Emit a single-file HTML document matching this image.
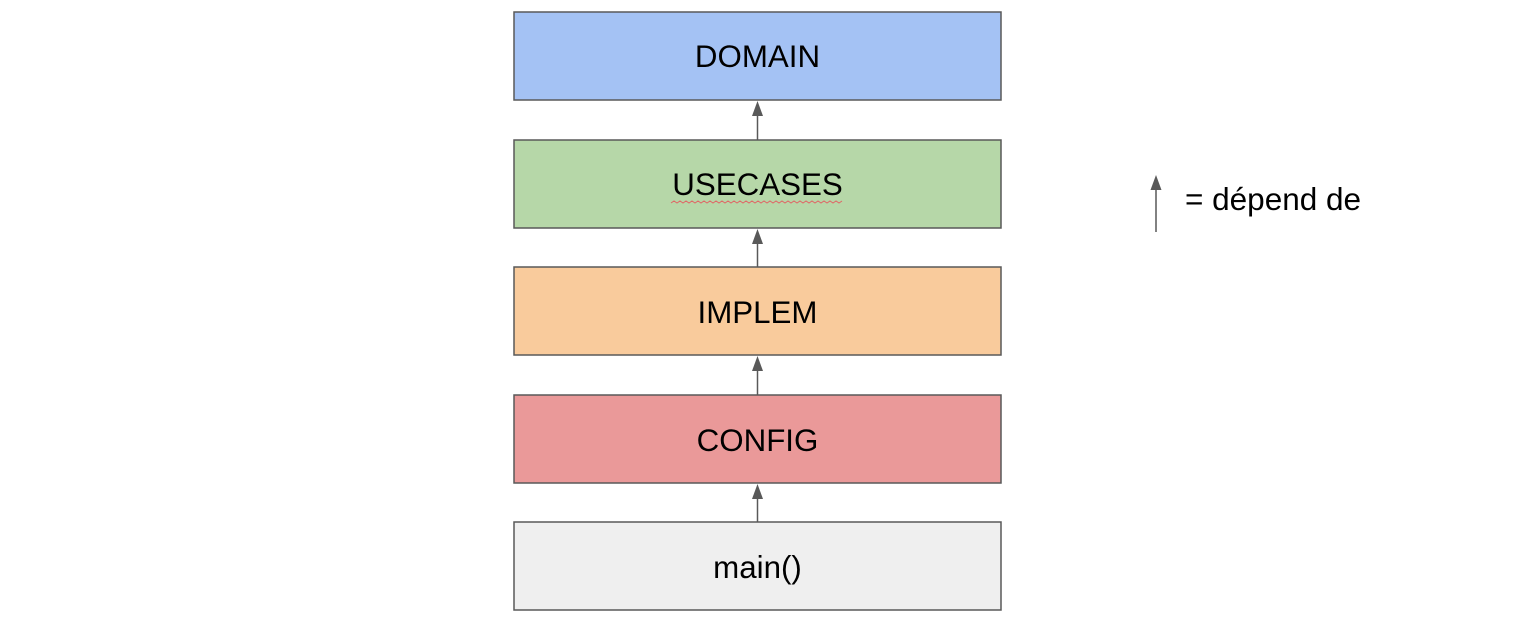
<!DOCTYPE html>
<html><head><meta charset="utf-8"><style>
html,body{margin:0;padding:0;background:#fff;width:1528px;height:619px;overflow:hidden}
</style></head><body>
<svg width="1528" height="619" viewBox="0 0 1528 619" xmlns="http://www.w3.org/2000/svg" font-family="Liberation Sans, sans-serif">
<g stroke="#595959" stroke-width="1.5">
<rect x="514" y="12" width="487" height="88" fill="#a4c2f4"/>
<rect x="514" y="140" width="487" height="88" fill="#b6d7a8"/>
<rect x="514" y="267" width="487" height="88" fill="#f9cb9c"/>
<rect x="514" y="395" width="487" height="88" fill="#ea9999"/>
<rect x="514" y="522" width="487" height="88" fill="#efefef"/>
<line x1="757.5" y1="112" x2="757.5" y2="140"/>
<line x1="757.5" y1="240" x2="757.5" y2="267"/>
<line x1="757.5" y1="367" x2="757.5" y2="395"/>
<line x1="757.5" y1="495" x2="757.5" y2="522"/>
<line x1="1156" y1="188" x2="1156" y2="232"/>
</g>
<g fill="#595959">
<polygon points="757.5,101 752,116 763,116"/>
<polygon points="757.5,229 752,244 763,244"/>
<polygon points="757.5,356 752,371 763,371"/>
<polygon points="757.5,484 752,499 763,499"/>
<polygon points="1156,175 1150.5,190 1161.5,190"/>
</g>
<g font-size="31.3" fill="#000" text-anchor="middle">
<text x="757.5" y="67">DOMAIN</text>
<text x="757.5" y="195">USECASES</text>
<text x="757.5" y="323">IMPLEM</text>
<text x="757.5" y="451">CONFIG</text>
<text x="757.5" y="578">main()</text>
</g>
<polyline points="671,203 674,201 677,203 680,201 683,203 686,201 689,203 692,201 695,203 698,201 701,203 704,201 707,203 710,201 713,203 716,201 719,203 722,201 725,203 728,201 731,203 734,201 737,203 740,201 743,203 746,201 749,203 752,201 755,203 758,201 761,203 764,201 767,203 770,201 773,203 776,201 779,203 782,201 785,203 788,201 791,203 794,201 797,203 800,201 803,203 806,201 809,203 812,201 815,203 818,201 821,203 824,201 827,203 830,201 833,203 836,201 839,203 842,201" fill="none" stroke="#e06666" stroke-width="1"/>
<text x="1185" y="210" font-size="31.5" fill="#000">= dépend de</text>
</svg>
</body></html>
